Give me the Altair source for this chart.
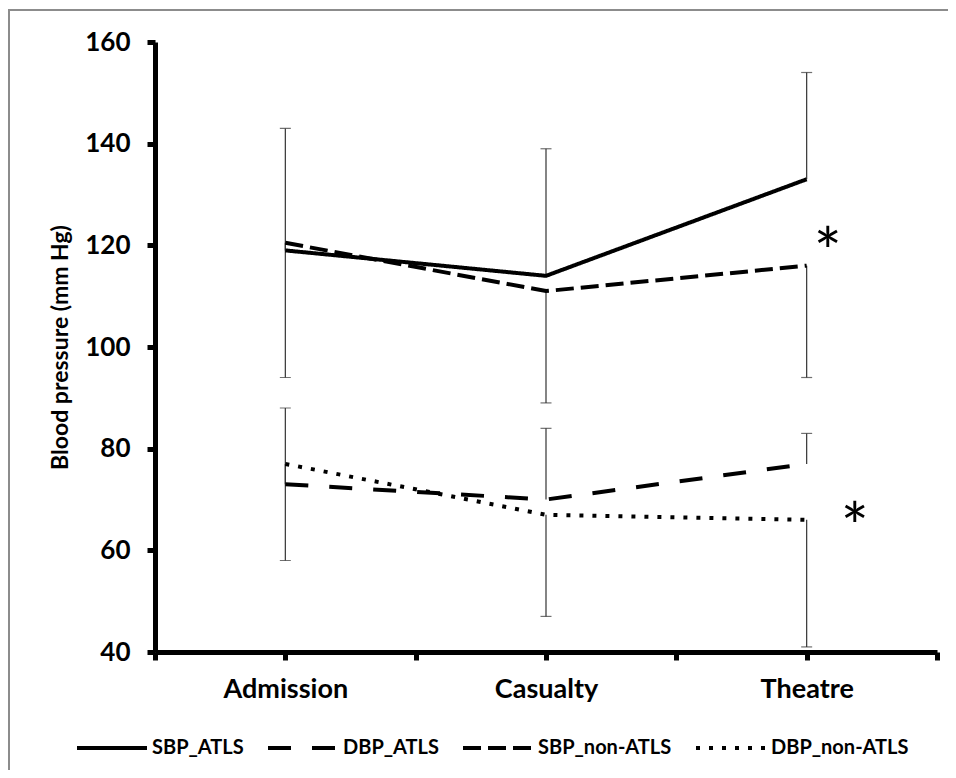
import altair as alt
import pandas as pd

categories = ["Admission", "Casualty", "Theatre"]
series = ["SBP_ATLS", "DBP_ATLS", "SBP_non-ATLS", "DBP_non-ATLS"]

sbp_atls = [119, 114, 133]
sbp_atls_err = [143, 139, 154]
dbp_atls = [73, 70, 77]
dbp_atls_err = [88, 84, 83]
sbp_non = [120.5, 111, 116]
sbp_non_err = [94, 89, 94]
dbp_non = [77, 67, 66]
dbp_non_err = [58, 47, 41]

asterisk_y = [121.5, 67.3]
y_ticks = [40, 60, 80, 100, 120, 140, 160]

values = [sbp_atls, dbp_atls, sbp_non, dbp_non]
errs = [sbp_atls_err, dbp_atls_err, sbp_non_err, dbp_non_err]

rows = []
for s, vals, ers in zip(series, values, errs):
    for i, (c, v, e) in enumerate(zip(categories, vals, ers)):
        rows.append({"series": s, "category": c, "pos": i + 0.5, "value": v, "err": e})
df = pd.DataFrame(rows)

ast_df = pd.DataFrame({"pos": [len(categories) - 0.5] * 2, "y": asterisk_y, "t": ["*", "*"]})

FONT = "Lato"
label_expr = " : ".join(
    [f"datum.value == {i + 0.5} ? '{c}'" for i, c in enumerate(categories)] + ["''"]
)

x_enc = alt.X(
    "pos:Q",
    scale=alt.Scale(domain=[0, len(categories)], nice=False, zero=False),
    axis=alt.Axis(
        values=[i * 0.5 for i in range(2 * len(categories) + 1)],
        labelExpr=label_expr,
        title=None,
        grid=False,
        domainColor="black",
        domainWidth=5,
        tickColor="black",
        tickWidth=5,
        tickSize=8,
        labelFont=FONT,
        labelFontSize=27,
        labelFontWeight="bold",
        labelColor="black",
        labelPadding=16,
        labelFlush=False,
    ),
)
y_scale = alt.Scale(domain=[40, 160], nice=False, zero=False)
y_axis = alt.Axis(
    values=y_ticks,
    title="Blood pressure (mm Hg)",
    grid=False,
    domainColor="black",
    domainWidth=5,
    tickColor="black",
    tickWidth=5,
    tickSize=8,
    labelFont=FONT,
    labelFontSize=26,
    labelFontWeight="bold",
    labelColor="black",
    labelPadding=17,
    titleFont=FONT,
    titleFontSize=23,
    titleFontWeight="bold",
    titleColor="black",
    titleX=-95,
    titleY=305,
    titleAngle=270,
    titleAlign="center",
    titleBaseline="middle",
)

base = alt.Chart(df)

bars = base.mark_rule(color="#333333", strokeWidth=1.2).encode(
    x=x_enc,
    y=alt.Y("value:Q", scale=y_scale, axis=y_axis),
    y2="err:Q",
)
caps = base.mark_tick(color="#333333", thickness=1.2, size=11, orient="horizontal").encode(
    x=alt.X("pos:Q"),
    y=alt.Y("err:Q"),
)
lines = base.mark_line(color="black", strokeWidth=4, strokeCap="butt").encode(
    x=alt.X("pos:Q"),
    y=alt.Y("value:Q"),
    strokeDash=alt.StrokeDash(
        "series:N",
        scale=alt.Scale(domain=series, range=[[1, 0], [23, 21], [18, 7], [4, 9]]),
        sort=series,
        legend=alt.Legend(
            title=None,
            orient="none",
            legendX=-80,
            legendY=669,
            direction="horizontal",
            columns=4,
            symbolType="stroke",
            symbolSize=4900,
            symbolStrokeWidth=4,
            symbolStrokeColor="black",
            labelFont=FONT,
            labelFontSize=20,
            labelFontWeight="bold",
            labelColor="black",
            labelOffset=3,
            columnPadding=16,
            padding=0,
        ),
    ),
    detail="series:N",
)

ast1 = alt.Chart(ast_df.iloc[[0]]).mark_text(
    font=FONT, fontSize=66, color="black", baseline="alphabetic", dx=21, dy=38
).encode(x="pos:Q", y="y:Q", text="t:N")
ast2 = alt.Chart(ast_df.iloc[[1]]).mark_text(
    font=FONT, fontSize=66, color="black", baseline="alphabetic", dx=48, dy=38
).encode(x="pos:Q", y="y:Q", text="t:N")

frame_top = alt.Chart(pd.DataFrame({"a": [0]})).mark_rule(color="#8c8c8c", strokeWidth=2).encode(
    x=alt.value(-147), x2=alt.value(800), y=alt.value(-32)
)
frame_left = alt.Chart(pd.DataFrame({"a": [0]})).mark_rule(color="#8c8c8c", strokeWidth=2).encode(
    x=alt.value(-146), y=alt.value(-33), y2=alt.value(740)
)

chart = (
    alt.layer(frame_top, frame_left, bars, caps, lines, ast1, ast2)
    .properties(
        width=782,
        height=610,
        autosize=alt.AutoSizeParams(type="none"),
        padding={"left": 147, "top": 34, "right": 11, "bottom": 118},
        background="white",
        view=alt.ViewBackground(stroke="transparent", strokeWidth=0, strokeOpacity=0),
    )
    .configure_view(strokeWidth=0, stroke="transparent", strokeOpacity=0)
)

chart.save("out.html", embed_options={"renderer": "svg", "actions": False})
